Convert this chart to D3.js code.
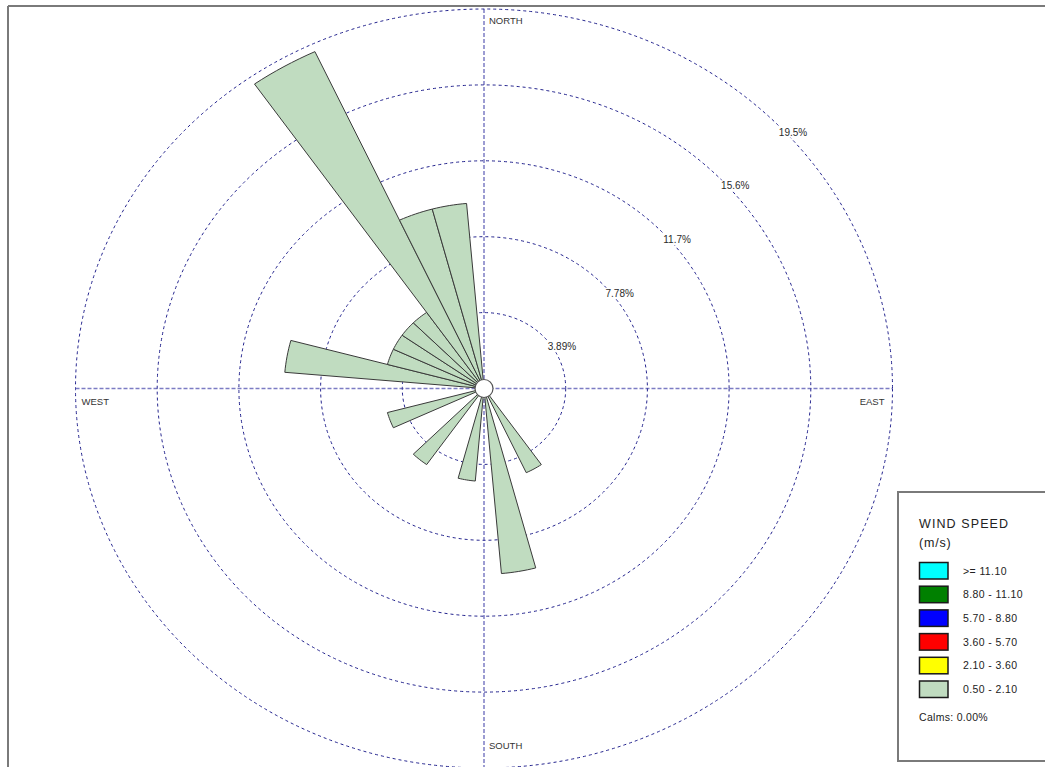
<!DOCTYPE html>
<html>
<head>
<meta charset="utf-8">
<script src="https://cdn.jsdelivr.net/npm/d3@7"></script>
<style>
  html, body { margin: 0; padding: 0; background: #fff; }
  svg { display: block; font-family: "Liberation Sans", Arial, sans-serif; }
</style>
</head>
<body>
<svg id="rose" width="1045" height="767"></svg>
<script>
// Wind directions (degrees, clockwise from north) that carry observations
const directions = [150, 170, 190, 220, 250, 280, 290, 300, 310, 320, 330, 340, 350];
// Frequency (%) per direction for the 0.50 - 2.10 m/s class (all other classes are empty)
const freqLow = [4.76, 9.52, 4.76, 4.76, 4.76, 9.52, 4.76, 4.76, 4.76, 4.76, 19.05, 9.52, 9.52];
// Frequency rings
const ringValues = [3.89, 7.78, 11.67, 15.56, 19.45];
const ringLabels = ["3.89%", "7.78%", "11.7%", "15.6%", "19.5%"];
// Compass labels
const compass = ["NORTH", "EAST", "SOUTH", "WEST"];
// Legend
const speedClasses = [">= 11.10", "8.80 - 11.10", "5.70 - 8.80", "3.60 - 5.70", "2.10 - 3.60", "0.50 - 2.10"];
const speedColors = ["#00ffff", "#008000", "#0000ff", "#ff0000", "#ffff00", "#c0dcc0"];
const calms = "Calms: 0.00%";

const svg = d3.select("#rose");
const cx = 484, cy = 388.5;
const RX = 408.5, RY = 379.5;     // outer ring semi-axes
const sectorWidth = 10;

// radial scale: frequency -> fraction of the outer ring
const r = d3.scaleLinear().domain([0, 19.45]).range([0, 1]);

function pt(angleDeg, v) {
  const a = angleDeg * Math.PI / 180;
  return [cx + Math.sin(a) * r(v) * RX, cy - Math.cos(a) * r(v) * RY];
}

// frame
svg.append("line").attr("x1", 8).attr("y1", 6).attr("x2", 1045).attr("y2", 6)
  .attr("stroke", "#7a7a7a").attr("stroke-width", 2);
svg.append("line").attr("x1", 8).attr("y1", 6).attr("x2", 8).attr("y2", 767)
  .attr("stroke", "#7a7a7a").attr("stroke-width", 2);

// axes
svg.append("line").attr("x1", cx).attr("y1", cy - RY).attr("x2", cx).attr("y2", cy + RY)
  .attr("stroke", "#7c7cc4").attr("stroke-width", 1.5).attr("stroke-dasharray", "4,2");
svg.append("line").attr("x1", cx - RX).attr("y1", cy).attr("x2", cx + RX).attr("y2", cy)
  .attr("stroke", "#7c7cc4").attr("stroke-width", 1.5).attr("stroke-dasharray", "4,2");

// rings
svg.append("g").selectAll("ellipse").data(ringValues).join("ellipse")
  .attr("cx", cx).attr("cy", cy)
  .attr("rx", d => r(d) * RX).attr("ry", d => r(d) * RY)
  .attr("fill", "none").attr("stroke", "#23238e").attr("stroke-width", 1)
  .attr("stroke-dasharray", "3,3");

// ring labels along the 45 degree line, on a white patch that masks the ring
const rl = svg.append("g").selectAll("g").data(ringValues).join("g");
const rlText = rl.append("text")
  .attr("x", d => pt(45, d)[0] + 6)
  .attr("y", d => pt(45, d)[1] + 15.5)
  .attr("font-size", 10).attr("fill", "#2a2a2a")
  .text((d, i) => ringLabels[i]);
rl.each(function () {
  const t = d3.select(this).select("text");
  const b = t.node().getBBox();
  d3.select(this).insert("rect", "text")
    .attr("x", b.x - 1).attr("y", b.y).attr("width", b.width + 2).attr("height", b.height)
    .attr("fill", "#fff");
});

// compass labels
const cl = svg.append("g").attr("font-size", 9.5).attr("fill", "#333");
cl.append("text").attr("x", cx + 5).attr("y", cy - RY + 14.5).text(compass[0]);
cl.append("text").attr("x", cx + RX - 8).attr("y", cy + 16).attr("text-anchor", "end").text(compass[1]);
cl.append("text").attr("x", cx + 5).attr("y", cy + RY - 19.5).text(compass[2]);
cl.append("text").attr("x", cx - RX + 6).attr("y", cy + 16).text(compass[3]);

// bars (sector wedges)
function wedge(dir, v) {
  const a0 = dir - sectorWidth / 2, a1 = dir + sectorWidth / 2;
  const p = [[cx, cy]];
  const n = 8;
  for (let k = 0; k <= n; k++) p.push(pt(a0 + (a1 - a0) * k / n, v));
  return d3.line()(p) + "Z";
}
svg.append("g").selectAll("path").data(directions).join("path")
  .attr("d", (d, i) => wedge(d, freqLow[i]))
  .attr("fill", speedColors[5]).attr("stroke", "#3a3a3a").attr("stroke-width", 1)
  .attr("stroke-linejoin", "round");

// center circle
svg.append("circle").attr("cx", cx).attr("cy", cy).attr("r", 9)
  .attr("fill", "#fff").attr("stroke", "#555").attr("stroke-width", 1.2);

// legend
const lg = svg.append("g");
lg.append("rect").attr("x", 898).attr("y", 492).attr("width", 160).attr("height", 269)
  .attr("fill", "#fff").attr("stroke", "#7a7a7a").attr("stroke-width", 2);
lg.append("text").attr("x", 919).attr("y", 528).attr("font-size", 12.5)
  .attr("letter-spacing", 1.1).attr("fill", "#222").text("WIND SPEED");
lg.append("text").attr("x", 919).attr("y", 547).attr("font-size", 12.5)
  .attr("letter-spacing", 0.8).attr("fill", "#222").text("(m/s)");
const rows = lg.selectAll("g.row").data(speedClasses).join("g").attr("class", "row")
  .attr("transform", (d, i) => `translate(0, ${i * 23.7})`);
rows.append("rect").attr("x", 919.5).attr("y", 562.5).attr("width", 28.5).attr("height", 16.5)
  .attr("fill", (d, i) => speedColors[i]).attr("stroke", "#1a1a1a").attr("stroke-width", 1.5);
rows.append("text").attr("x", 963).attr("y", 574.5).attr("font-size", 10.5)
  .attr("letter-spacing", 0.4).attr("fill", "#222").text(d => d);
lg.append("text").attr("x", 919).attr("y", 721).attr("font-size", 10.5)
  .attr("letter-spacing", 0.3).attr("fill", "#222").text(calms);
</script>
</body>
</html>
